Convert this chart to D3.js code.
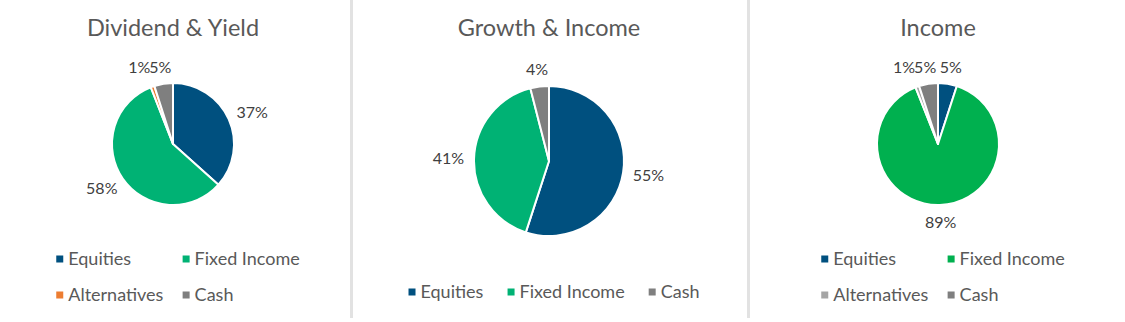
<!DOCTYPE html>
<html><head><meta charset="utf-8">
<script src="https://cdn.jsdelivr.net/npm/d3@7"></script>
<style>
html,body{margin:0;padding:0;background:#fff;}
svg{display:block;}
text{font-family:Lato,"Open Sans",sans-serif;}
</style></head>
<body><svg id="c" width="1125" height="322"></svg>
<script>
// ---- data ----
const titles = ["Dividend & Yield", "Growth & Income", "Income"];
const dyCategories = ["Equities", "Fixed Income", "Alternatives", "Cash"];
const dyValues = [37, 58, 1, 5];
const giCategories = ["Equities", "Fixed Income", "Cash"];
const giValues = [55, 41, 4];
const inCategories = ["Equities", "Fixed Income", "Alternatives", "Cash"];
const inValues = [5, 89, 1, 5];
const dyColors = ["#00507f", "#00b274", "#ed7d31", "#7f7f7f"];
const giColors = ["#00507f", "#00b274", "#7f7f7f"];
const inColors = ["#00507f", "#00b04f", "#a5a5a5", "#7f7f7f"];

const svg = d3.select("#c");

const panels = [
  {cats: dyCategories, vals: dyValues, cols: dyColors, cy: 144, r: 61, legendRows: 2, legendY: 259},
  {cats: giCategories, vals: giValues, cols: giColors, cy: 161, r: 75, legendRows: 1, legendY: 292},
  {cats: inCategories, vals: inValues, cols: inColors, cy: 144, r: 61, legendRows: 2, legendY: 259}
];
const centers = [173, 549, 938];

svg.selectAll("line.sep").data([351.5, 748.5]).enter().append("line")
  .attr("x1", d => d).attr("x2", d => d).attr("y1", 0).attr("y2", 318)
  .attr("stroke", "#e2e2e2").attr("stroke-width", 3);

panels.forEach((p, i) => {
  const cx = centers[i];
  const g = svg.append("g");
  g.append("text").attr("x", cx).attr("y", 36).attr("text-anchor", "middle")
    .attr("font-size", 23.5).attr("fill", "#595959").text(titles[i]);

  const data = p.cats.map((c, k) => ({cat: c, v: p.vals[k], col: p.cols[k]}));
  const pie = d3.pie().value(d => d.v).sort(null);
  const arcs = pie(data);
  const arc = d3.arc().innerRadius(0).outerRadius(p.r);
  const pg = g.append("g").attr("transform", `translate(${cx},${p.cy})`);
  pg.selectAll("path").data(arcs).enter().append("path")
    .attr("d", arc).attr("fill", d => d.data.col)
    .attr("stroke", "#fff").attr("stroke-width", 2).attr("stroke-linejoin", "round");

  const labs = pg.selectAll("text.lab").data(arcs).enter().append("text")
    .attr("class", "lab").attr("font-size", 16).attr("fill", "#404040")
    .attr("text-anchor", "middle").attr("dy", "0.35em").text(d => d.data.v + "%");
  const gap = 10;
  const pos = [];
  labs.each(function(d) {
    const w = this.getComputedTextLength(), h = 14;
    const a = (d.startAngle + d.endAngle) / 2;
    const ux = Math.sin(a), uy = -Math.cos(a);
    pos.push({x: ux * (p.r + gap) + ux * w / 2, y: uy * (p.r + gap) + uy * h / 2, w});
  });
  for (let k = pos.length - 1; k > 0; k--) {
    const a = pos[k - 1], b = pos[k];
    if (Math.abs(a.y - b.y) < 12) {
      const minD = (a.w + b.w) / 2 - 1;
      if (b.x - a.x < minD && a.x <= b.x + 5) { a.x = b.x - minD; a.y = b.y; }
    }
  }
  labs.attr("x", (d, k) => pos[k].x).attr("y", (d, k) => pos[k].y);

  const lg = g.append("g");
  const items = lg.selectAll("g.li").data(data).enter().append("g");
  items.append("rect").attr("width", 7).attr("height", 7).attr("y", -3.5).attr("fill", d => d.col);
  items.append("text").attr("x", 12).attr("dy", "0.35em").attr("font-size", 18)
    .attr("fill", "#595959").text(d => d.cat);
  const widths = [];
  items.each(function() { widths.push(this.getBBox().width); });
  const lcx = cx + 5;
  if (p.legendRows === 1) {
    const sp = 24;
    const totalW = d3.sum(widths) + sp * (widths.length - 1);
    let x = lcx - totalW / 2;
    items.attr("transform", (d, k) => { const t = `translate(${x},${p.legendY})`; x += widths[k] + sp; return t; });
  } else {
    const colW = d3.max([widths[0], widths[2]]) + 19;
    const totalW = colW + d3.max([widths[1], widths[3]]);
    const x0 = lcx - totalW / 2;
    items.attr("transform", (d, k) => `translate(${x0 + (k % 2) * colW},${p.legendY + Math.floor(k / 2) * 36})`);
  }
});
</script></body></html>
